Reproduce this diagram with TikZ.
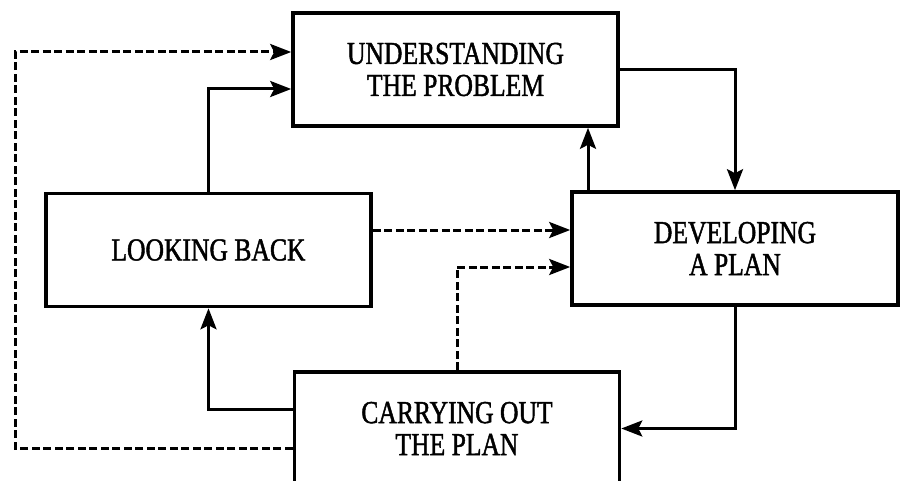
\documentclass[tikz,border=0pt]{standalone}
\usepackage{fontspec}
\newfontfamily\capfont[FakeStretch=0.8,FakeBold=1.4]{Liberation Serif}
\usetikzlibrary{arrows.meta,calc}
\begin{document}
\begin{tikzpicture}[x=1pt,y=-1pt,
  stagebox/.style={draw,line width=3.6pt,rectangle,inner sep=0pt,
    minimum width=325pt,minimum height=113pt,align=center,
    font=\capfont\fontsize{32}{32}\selectfont},
  flow/.style={line width=3pt,-{Stealth[length=21pt,width=16pt,inset=4pt]}},
  dflow/.style={flow,dash pattern=on 8pt off 3.5pt}]
\useasboundingbox[fill=white] (0,0) rectangle (904,481);
\begin{scope}
\clip (0,0) rectangle (904,481);
\node[stagebox] (U) at (455.5,69.5) {UNDERSTANDING\\THE PROBLEM};
\node[stagebox] (L) at (208.5,250) {LOOKING BACK};
\node[stagebox,minimum width=326pt] (D) at (735,248.5) {DEVELOPING\\A PLAN};
\node[stagebox] (C) at (457,428.5) {CARRYING OUT\\THE PLAN};
\end{scope}
% solid connectors
\draw[flow] (U.east) -| (D.north);
\draw[flow] (D.north -| 588,0) -- (U.south -| 588,0);
\draw[flow] (D.south) |- (C.east);
\draw[flow] (C.west |- 0,409) -| (L.south);
\draw[flow] (L.north) |- (U.west |- 0,89);
% dashed connectors
\coordinate (dl) at (15,448);
\coordinate (ul) at (15,52);
\draw[dflow] (C.west |- dl) -- (dl) -- (ul) -- (U.west |- ul);
\draw[dflow] (L.east |- 0,230) -- (D.west |- 0,230);
\draw[dflow] (C.north) |- (D.west |- 0,267);
\end{tikzpicture}
\end{document}
